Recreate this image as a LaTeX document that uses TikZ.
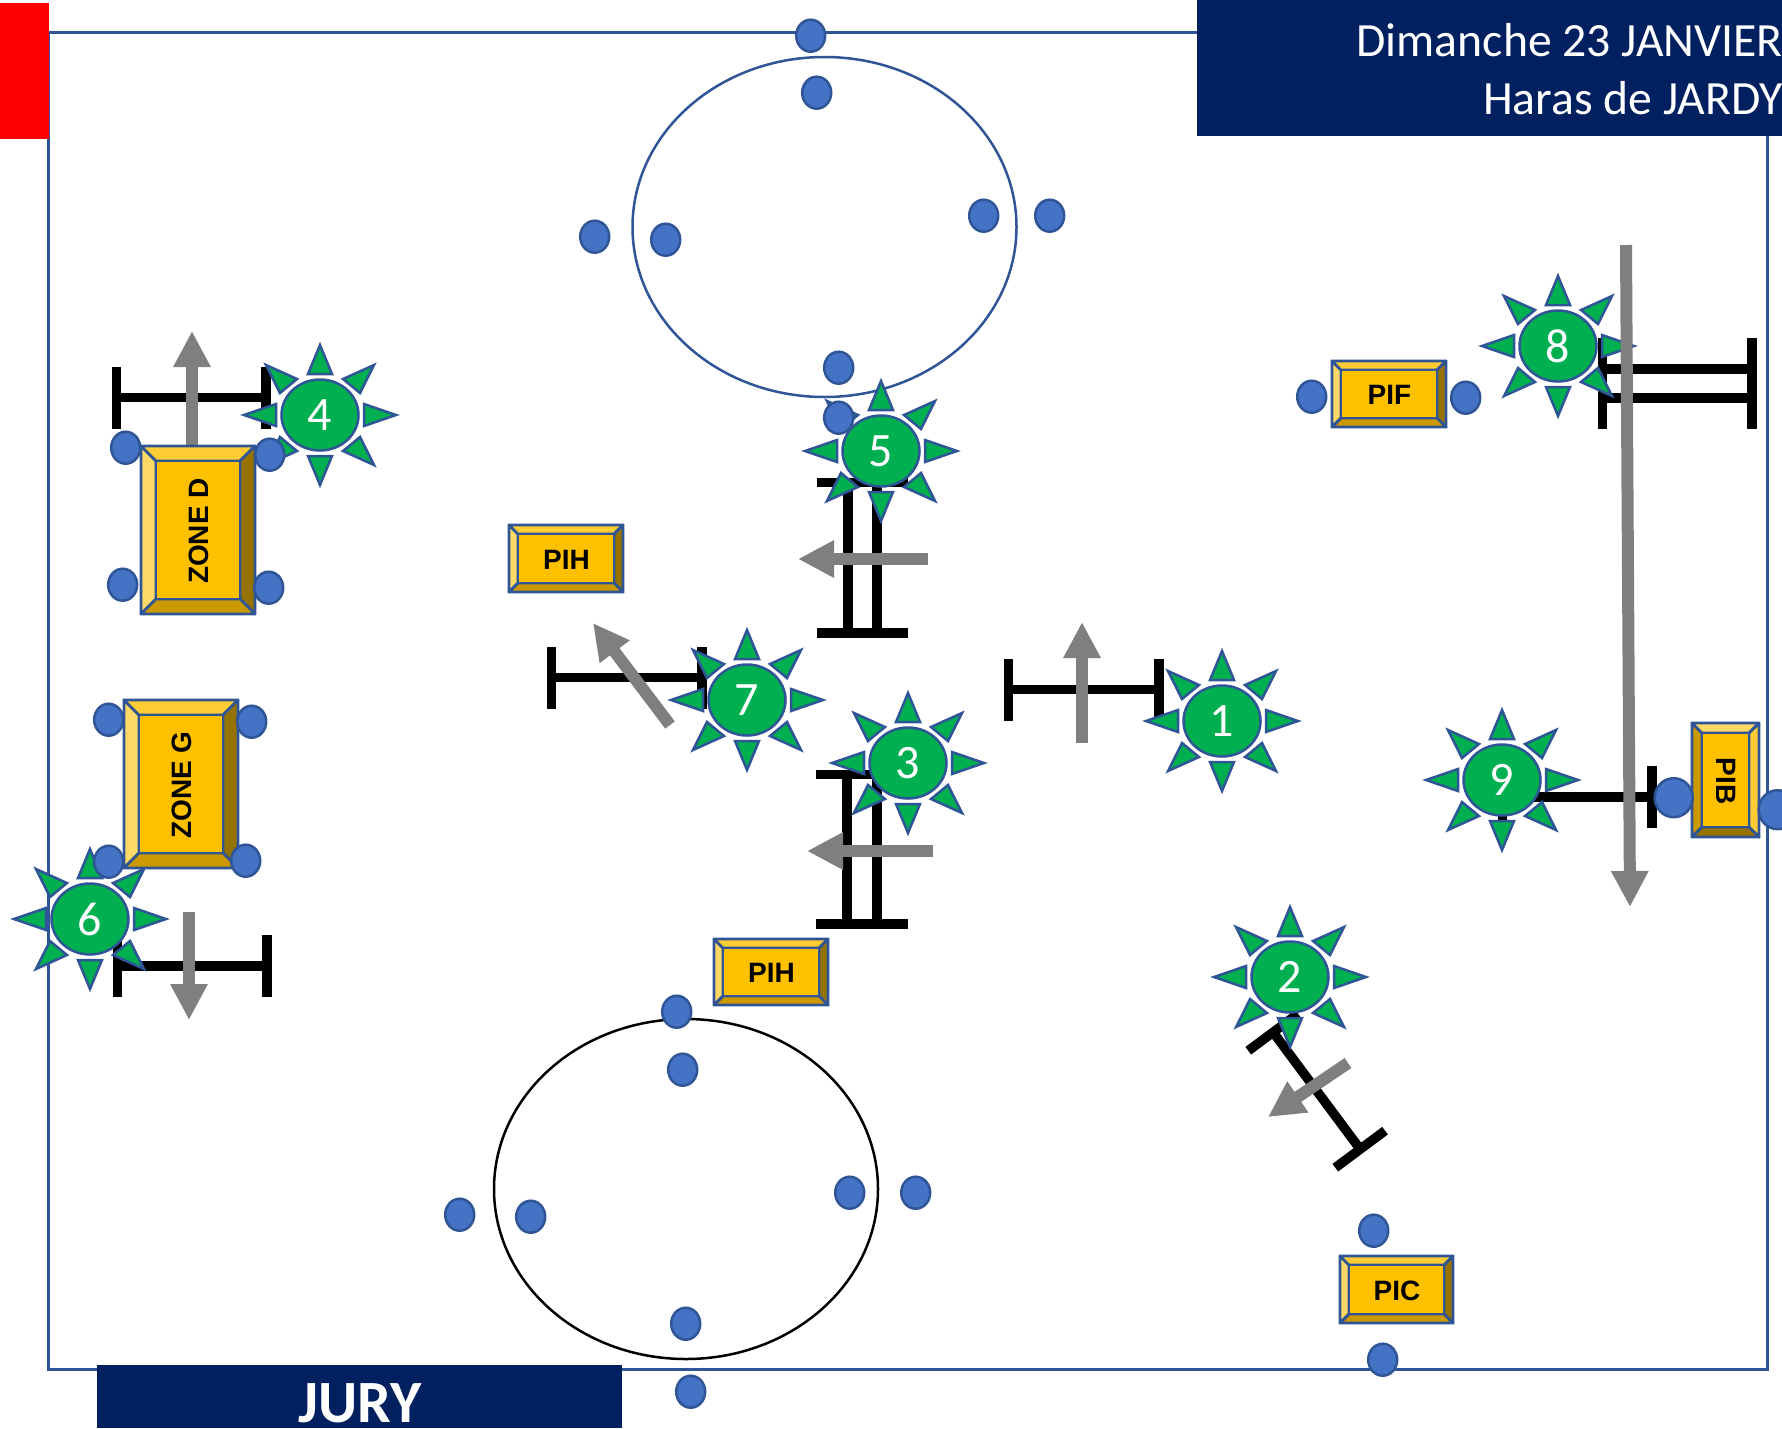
\documentclass[tikz,border=0pt]{standalone}
\usepackage{fontspec}
\setmainfont{Carlito}
\newfontfamily\boxfont{Liberation Sans}
\usetikzlibrary{arrows.meta,shapes.geometric}
\definecolor{navy}{HTML}{002060}
\definecolor{edgeblue}{HTML}{2F5597}
\definecolor{dotblue}{HTML}{4472C4}
\definecolor{sungreen}{HTML}{00B050}
\definecolor{arrowgrey}{HTML}{7F7F7F}
\definecolor{faceA}{HTML}{FFC000}
\definecolor{faceB}{HTML}{FFD966}
\definecolor{faceC}{HTML}{FFCD33}
\definecolor{faceD}{HTML}{967300}
\definecolor{faceE}{HTML}{CC9900}
\begin{document}
\begin{tikzpicture}[x=1pt,y=-1pt]
    \tikzstyle{every node}=[inner sep=0]
    \tikzstyle{ring}=[draw,ellipse,line width=2.5,minimum width=384,minimum height=340]
    \tikzstyle{head}=[anchor=base east,text=white,font=\fontsize{47.7}{58}\selectfont]
    \tikzstyle{beam}=[line width=9.5,{Bar[width=62pt,line width=9.5pt]}-{Bar[width=62pt,line width=9.5pt]}]
    \tikzstyle{push}=[draw=arrowgrey,line width=12,-{Triangle[width=35pt,length=36pt]}]
    \tikzstyle{ray}=[fill=sungreen,draw=edgeblue,line width=2.5,line join=miter]
    \tikzstyle{sun}=[ellipse,fill=sungreen,draw=edgeblue,line width=2.5,minimum width=77,minimum height=71,text=white,font=\fontsize{48}{48}\selectfont]
    \tikzstyle{pole}=[ellipse,fill=dotblue,draw=edgeblue,line width=2.5,minimum width=29,minimum height=32,xshift=0.7,yshift=-0.7]
    \tikzstyle{bigpole}=[pole,minimum width=38,minimum height=39]
    \tikzstyle{face}=[draw=edgeblue,line width=2.8,line join=round]
    \tikzstyle{tag}=[font=\boxfont\bfseries\fontsize{28}{30}\selectfont]
    \useasboundingbox (0,0) rectangle (1782,1428);

    % arena and titles
    \draw[edgeblue,line width=3] (48,32) rectangle (1767,1369);
    \fill[red] (0,3) rectangle (49,139);
    \fill[navy] (1197,0) rectangle (1782,136);
    \fill[navy] (97,1365) rectangle (622,1428);
    \node[head] (title1) at (1783,56) {Dimanche 23 JANVIER};
    \node[head] (title2) at (1783,114) {Haras de JARDY};
    \node[text=white,font=\bfseries\fontsize{60}{60}\selectfont] (jury) at (360,1403) {JURY};
    \node[ring,draw=edgeblue] (ring1) at (824.5,227) {};
    \node[ring,draw=black] (ring2) at (686,1189) {};

    % obstacles
    \draw[beam] (111.5,397.5) -- (270.5,397.5);
    \draw[beam] (1003.5,689.5) -- (1163.5,689.5);
    \draw[beam] (546.5,677.5) -- (706.5,677.5);
    \draw[beam] (112.5,966) -- (271.5,966);
    \draw[beam] (848,477.5) -- (848,637.5);
    \draw[beam] (877,477.5) -- (877,637.5);
    \draw[beam] (847,769.5) -- (847,928.5);
    \draw[beam] (877,769.5) -- (877,928.5);
    \draw[beam] (1597.5,369) -- (1756.5,369);
    \draw[beam] (1597.5,398) -- (1756.5,398);
    \draw[beam] (1497.5,797) -- (1656.5,797);
    \draw[beam] (1270.3,1028.4) -- (1363,1153);

    % judges
    \foreach \n/\xc/\yc in {1/1222/721,2/1290/977,3/908/763,4/320/415,5/881/451,6/90/919,7/747/700,8/1558/346,9/1502/780}{
        \begin{scope}[shift={(\xc,\yc)}]
            \foreach \sa in {1,-1}{
                \draw[ray] (-12,\sa*41) -- (0,\sa*70) -- (12,\sa*41) -- cycle;
                \draw[ray] (\sa*44,-11) -- (\sa*76,0) -- (\sa*44,11) -- cycle;
                \foreach \sb in {1,-1}
                    \draw[ray] (\sa*23,\sb*36) -- (\sa*54,\sb*50) -- (\sa*40,\sb*22) -- cycle;
            }
        \end{scope}
        \node[sun] (sun\n) at (\xc,\yc) {\n};
    }

    % movements
    \draw[push] (192,450) -- (192,331);
    \draw[push] (1082,743) -- (1082,622);
    \draw[push] (928,559) -- (798,559);
    \draw[push] (933,851) -- (807,851);
    \draw[push] (670,725) -- (593,623);
    \draw[push] (189,912) -- (189,1020);
    \draw[push] (1626,245) -- (1630,907);
    \draw[push] (1348,1063) -- (1268,1117);

    % judge boxes
    \foreach \n/\xa/\ya/\xb/\yb/\ins/\rot/\txt/\cl/\ct/\cr/\cb in {
        zoned/141/446/255/614/15/90/ZONE D/faceB/faceC/faceD/faceE,
        zoneg/124/700/238/868/15/90/ZONE G/faceB/faceC/faceD/faceE,
        pif/1332/361/1446/427/9/0/PIF/faceB/faceC/faceD/faceE,
        pih1/509/525/623/592/9/0/PIH/faceB/faceC/faceD/faceE,
        pih2/714/939/828/1005/9/0/PIH/faceB/faceC/faceD/faceE,
        pic/1340/1256/1453/1323/9/0/PIC/faceB/faceC/faceD/faceE,
        pib/1692/723/1759/837/10/-90/PIB/faceE/faceB/faceC/faceD}{
        \draw[face,fill=\cl] (\xa,\ya) -- (\xa+\ins,\ya+\ins) -- (\xa+\ins,\yb-\ins) -- (\xa,\yb) -- cycle;
        \draw[face,fill=\ct] (\xa,\ya) -- (\xa+\ins,\ya+\ins) -- (\xb-\ins,\ya+\ins) -- (\xb,\ya) -- cycle;
        \draw[face,fill=\cr] (\xb,\ya) -- (\xb-\ins,\ya+\ins) -- (\xb-\ins,\yb-\ins) -- (\xb,\yb) -- cycle;
        \draw[face,fill=\cb] (\xa,\yb) -- (\xa+\ins,\yb-\ins) -- (\xb-\ins,\yb-\ins) -- (\xb,\yb) -- cycle;
        \draw[face,fill=faceA] (\xa+\ins,\ya+\ins) rectangle (\xb-\ins,\yb-\ins);
        \node[tag,rotate=\rot] (\n) at ({(\xa+\xb)/2+0.5},{(\ya+\yb)/2+1}) {\txt};
    }

    % poles
    \foreach \xc/\yc [count=\i] in {810/35,816/92,594/236,665/239,983/215,1049/215,838/367,838/417,
        125/447,269/454,122/584,268/587,108/719,251/721,108/861,245/860,
        1311/396,1465/397,
        676/1011,682/1069,459/1214,530/1216,849/1192,915/1192,685/1323,690/1391,1373/1230,1382/1359}
        \node[pole] (pole\i) at (\xc,\yc) {};
    \node[bigpole] (pole29) at (1673,797) {};
    \node[bigpole] (pole30) at (1777,809) {};
\end{tikzpicture}
\end{document}
